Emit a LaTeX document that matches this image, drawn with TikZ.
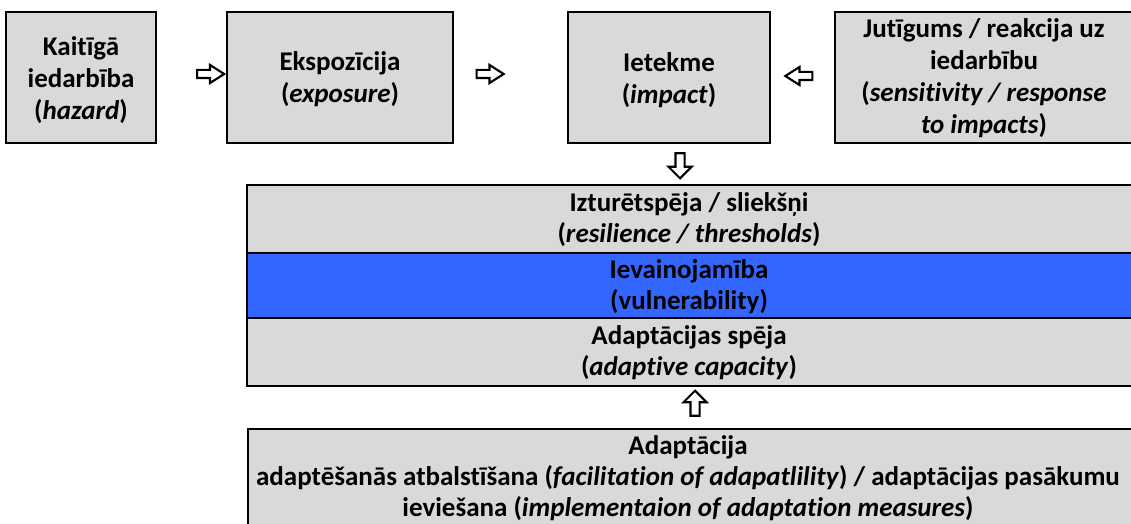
\documentclass[tikz,border=0pt]{standalone}
\usepackage{fontspec}
\setmainfont{Carlito}[Ligatures={NoCommon}]
\usetikzlibrary{shapes.arrows}
\definecolor{boxgray}{HTML}{D9D9D9}
\definecolor{vulblue}{HTML}{3366FF}
\begin{document}
\begin{tikzpicture}[x=1pt,y=-1pt,
  box/.style={draw=black, line width=2.5pt, fill=boxgray, inner sep=0pt},
  bluebox/.style={box, fill=vulblue},
  lbl/.style={font=\bfseries\fontsize{27}{32}\selectfont, align=center, inner sep=0pt},
  lblt/.style={font=\bfseries\fontsize{27}{31}\selectfont, align=center, inner sep=0pt},
  harrow/.style={single arrow, draw=black, line width=2.1pt, fill=white,
    inner xsep=0pt, inner ysep=3pt, minimum width=1pt, minimum height=27pt,
    single arrow head extend=5pt, single arrow tip angle=65},
  varrow/.style={single arrow, draw=black, line width=2.1pt, fill=white,
    inner xsep=0pt, inner ysep=3.5pt, minimum width=1pt, minimum height=25pt,
    single arrow head extend=7pt, single arrow tip angle=90}
]
\clip (0,0) rectangle (1131,524);
\fill[white] (0,0) rectangle (1131,524);

% top row
\node[box, minimum width=150pt, minimum height=131pt] (hazard) at (81,77.5) {};
\node[lbl] (hazardtext) at (81,80) {Kaitīgā\\iedarbība\\(\textit{hazard})};
\node[box, minimum width=226pt, minimum height=131pt] (exposure) at (340,77.5) {};
\node[lbl] (exposuretext) at (340,79) {Ekspozīcija\\(\textit{exposure})};
\node[box, minimum width=202pt, minimum height=131pt] (impact) at (669,77.5) {};
\node[lbl] (impacttext) at (669,80) {Ietekme\\(\textit{impact})};
\node[box, minimum width=298pt, minimum height=131pt] (sensitivity) at (984,77.5) {};
\node[lbl] (sensitivitytext) at (984,78.5)
  {Jutīgums / reakcija uz\\iedarbību\\(\textit{sensitivity / response}\\\textit{to impacts})};

% arrows top
\node[harrow] (a1) at (207.5,74) {};
\node[harrow] (a2) at (487,74) {};
\node[harrow, rotate=180] (a3) at (802,76) {};
\node[varrow, rotate=-90] (a4) at (680,163.5) {};

% middle stack
\node[box, minimum width=888pt, minimum height=68pt] (resilience) at (691,219) {};
\node[bluebox, minimum width=888pt, minimum height=65pt] (vulnerability) at (691,285.5) {};
\node[box, minimum width=888pt, minimum height=68pt] (capacity) at (691,352) {};
\node[lblt] (resiliencetext) at (689,220) {Izturētspēja / sliekšņi\\(\textit{resilience / thresholds})};
\node[lblt] (vulnerabilitytext) at (689,286.5) {Ievainojamība\\(vulnerability)};
\node[lblt] (capacitytext) at (689,353) {Adaptācijas spēja\\(\textit{adaptive capacity})};

\node[varrow, rotate=90] (a5) at (695,405.5) {};

% bottom
\node[box, minimum width=887pt, minimum height=111pt] (adaptation) at (691.5,484.5) {};
\node[lblt] (adaptationtext) at (688,478)
  {Adaptācija\\adaptēšanās atbalstīšana (\textit{facilitation of adapatlility}) / adaptācijas pasākumu\\ieviešana (\textit{implementaion of adaptation measures})};
\end{tikzpicture}
\end{document}
